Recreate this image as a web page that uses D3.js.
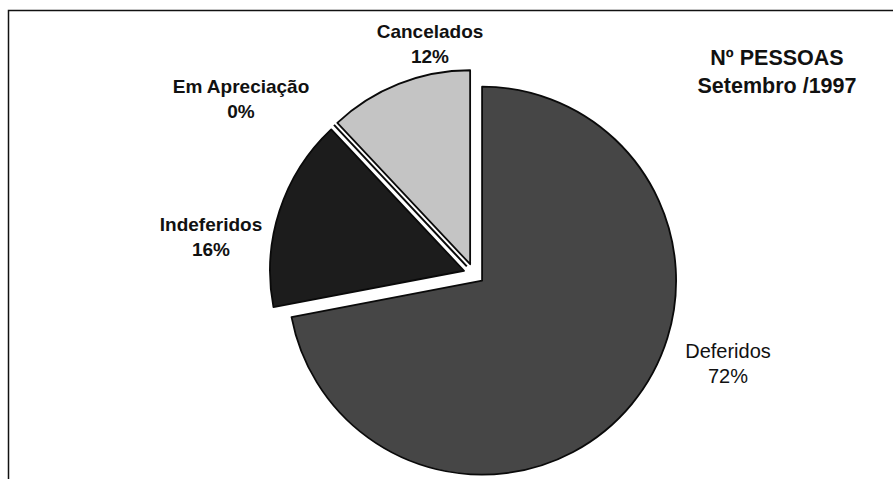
<!DOCTYPE html>
<html>
<head>
<meta charset="utf-8">
<script src="https://cdn.jsdelivr.net/npm/d3@7"></script>
<style>
  body { margin: 0; background: #fff; }
  svg text { font-family: Arial, "Liberation Sans", sans-serif; fill: #111; }
</style>
</head>
<body>
<script>
// slice names, in drawing order (clockwise from 12 o'clock)
let categories = ['Deferidos', 'Indeferidos', 'Em Apreciação', 'Cancelados']
// share of people, percent
let values = [72, 16, 0, 12]
// title lines
let titleLines = ['Nº PESSOAS', 'Setembro /1997']

let width = 893
let height = 479

let cx = 474
let cy = 274
let radius = 194
let explode = 10.5

let fills = {
    'Deferidos': '#464646',
    'Indeferidos': '#1c1c1c',
    'Em Apreciação': '#ffffff',
    'Cancelados': '#c4c4c4'
}

// where each label block is centred (layout, not data)
let labelAt = {
    'Deferidos': [728, 358, 'normal', 20],
    'Indeferidos': [211, 231, 'bold', 19],
    'Em Apreciação': [241, 93, 'bold', 19],
    'Cancelados': [430, 38, 'bold', 19]
}

let svg = d3.select('body')
            .append('svg')
            .attr('width', width)
            .attr('height', height)

// frame
svg.append('rect')
    .attr('x', 8.5)
    .attr('y', 10.5)
    .attr('width', width + 10)
    .attr('height', height + 10)
    .attr('fill', 'none')
    .attr('stroke', '#111')
    .attr('stroke-width', 1.5)

let pie = d3.pie().sort(null).value((d) => d.value)
let slices = pie(categories.map((c, i) => ({ name: c, value: values[i] })))

let arc = d3.arc().innerRadius(0).outerRadius(radius)

let g = svg.append('g')
            .attr('transform', 'translate(' + cx + ',' + cy + ')')

// every slice is pulled out along its own bisector
let offsetOf = (s) => d3.pointRadial((s.startAngle + s.endAngle) / 2, explode)

g.selectAll('path.slice')
    .data(slices.filter((s) => s.endAngle > s.startAngle))
    .enter()
    .append('path')
    .attr('class', 'slice')
    .attr('d', arc)
    .attr('transform', (s) => 'translate(' + offsetOf(s) + ')')
    .attr('fill', (s) => fills[s.data.name])
    .attr('stroke', '#0a0a0a')
    .attr('stroke-width', 1.8)
    .attr('stroke-linejoin', 'round')

// zero-size slices are still drawn as their outline
let zero = slices.filter((s) => s.endAngle === s.startAngle)
g.selectAll('line.zero')
    .data(zero)
    .enter()
    .append('line')
    .attr('class', 'zero')
    .attr('x1', (s) => d3.pointRadial(s.startAngle, explode)[0])
    .attr('y1', (s) => d3.pointRadial(s.startAngle, explode)[1])
    .attr('x2', (s) => d3.pointRadial(s.startAngle, radius + explode)[0])
    .attr('y2', (s) => d3.pointRadial(s.startAngle, radius + explode)[1])
    .attr('stroke', '#0a0a0a')
    .attr('stroke-width', 2)

// labels
slices.forEach((s) => {
    let p = labelAt[s.data.name]
    let t = svg.append('text')
                .attr('text-anchor', 'middle')
                .attr('font-size', p[3])
                .attr('font-weight', p[2])
    t.append('tspan').attr('x', p[0]).attr('y', p[1]).text(s.data.name)
    t.append('tspan').attr('x', p[0]).attr('y', p[1] + 25).text(Math.round(s.data.value) + '%')
})

// title
svg.append('text')
    .attr('text-anchor', 'middle')
    .attr('font-size', 21.5)
    .attr('font-weight', 'bold')
    .selectAll('tspan')
    .data(titleLines)
    .enter()
    .append('tspan')
    .attr('x', 777)
    .attr('y', (d, i) => 65 + i * 28)
    .text((d) => d)
</script>
</body>
</html>
